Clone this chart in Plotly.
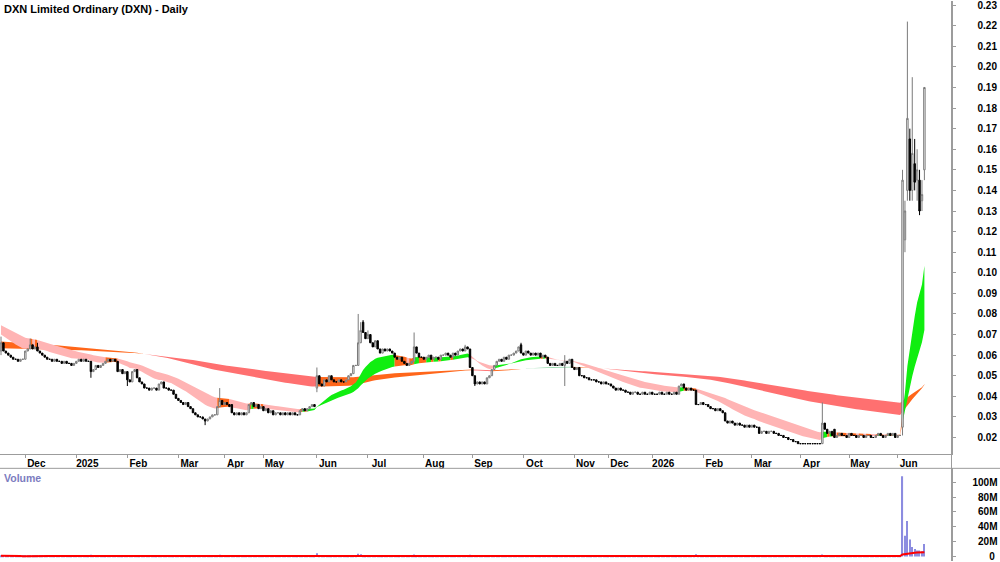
import plotly.graph_objects as go

# ---------------- data ----------------
month_ticks = [10, 31, 52, 73, 92, 108, 130, 151, 174, 194, 215, 236, 250, 268, 289, 309, 329, 349, 369]
month_labels = ["Dec", "2025", "Feb", "Mar", "Apr", "May", "Jun", "Jul", "Aug", "Sep", "Oct",
                "Nov", "Dec", "2026", "Feb", "Mar", "Apr", "May", "Jun"]

opens = [
    .062, .066, .062, .061, .060, .059, .058, .058, .057, .058,
    .058, .062, .063, .065, .063, .064, .062, .061, .060, .059,
    .058, .058, .057, .058, .057, .057, .056, .057, .056, .056,
    .055, .056, .057, .058, .057, .058, .057, .057, .052, .053,
    .055, .054, .055, .056, .057, .058, .057, .058, .057, .052,
    .053, .051, .052, .048, .047, .052, .053, .049, .047, .046,
    .044, .044, .043, .044, .044, .043, .046, .047, .044, .044,
    .043, .043, .041, .039, .038, .037, .036, .037, .035, .034,
    .032, .031, .030, .030, .029, .028, .029, .030, .031, .031,
    .035, .038, .036, .037, .036, .036, .032, .031, .032, .031,
    .032, .031, .032, .036, .037, .035, .036, .034, .035, .033,
    .034, .032, .033, .031, .032, .032, .031, .032, .031, .032,
    .031, .032, .031, .031, .033, .034, .033, .034, .035, .036,
    .044, .050, .046, .045, .048, .047, .050, .048, .047, .047,
    .048, .047, .047, .048, .050, .051, .055, .055, .066, .076,
    .071, .068, .070, .066, .064, .067, .063, .061, .063, .062,
    .063, .062, .061, .059, .058, .059, .057, .056, .055, .056,
    .057, .064, .061, .059, .059, .058, .059, .060, .058, .059,
    .059, .058, .060, .060, .061, .060, .059, .061, .060, .062,
    .063, .062, .064, .063, .054, .050, .046, .047, .046, .047,
    .046, .049, .050, .053, .055, .057, .058, .057, .059, .058,
    .060, .060, .061, .062, .065, .061, .060, .062, .061, .060,
    .061, .060, .061, .059, .060, .059, .056, .055, .056, .055,
    .055, .056, .055, .057, .056, .058, .054, .053, .054, .050,
    .050, .049, .049, .048, .048, .048, .047, .047, .046, .047,
    .046, .046, .045, .044, .043, .044, .043, .043, .042, .042,
    .041, .042, .042, .041, .041, .042, .041, .041, .042, .041,
    .041, .041, .042, .041, .041, .042, .041, .041, .042, .041,
    .045, .046, .044, .043, .044, .043, .043, .036, .036, .037,
    .036, .036, .035, .034, .034, .033, .034, .033, .032, .028,
    .027, .028, .027, .026, .027, .026, .026, .025, .026, .025,
    .026, .025, .025, .022, .023, .023, .022, .023, .023, .022,
    .022, .021, .021, .020, .020, .019, .019, .018, .018, .017,
    .017, .017, .017, .017, .017, .017, .017, .017, .017, .027,
    .024, .022, .023, .024, .020, .021, .022, .021, .021, .020,
    .022, .021, .021, .020, .021, .021, .020, .021, .021, .020,
    .020, .021, .022, .021, .020, .021, .022, .021, .022, .020,
    .021, .025, .116, .140, .165, .140, .153, .145, .145, .135, .150,
]

closes = [
    .066, .062, .061, .060, .059, .058, .058, .057, .058, .058,
    .062, .063, .065, .063, .064, .062, .061, .060, .059, .058,
    .058, .057, .058, .057, .057, .056, .057, .056, .056, .055,
    .056, .057, .058, .057, .058, .057, .057, .052, .053, .055,
    .054, .055, .056, .057, .058, .057, .058, .057, .052, .053,
    .051, .052, .048, .047, .052, .053, .049, .047, .046, .044,
    .044, .043, .044, .044, .043, .046, .047, .044, .044, .043,
    .043, .041, .039, .038, .037, .036, .037, .035, .034, .032,
    .031, .030, .030, .029, .028, .029, .030, .031, .031, .035,
    .038, .036, .037, .036, .035, .032, .031, .032, .031, .032,
    .031, .032, .036, .037, .035, .036, .034, .035, .033, .034,
    .032, .033, .031, .032, .032, .031, .032, .031, .032, .031,
    .032, .031, .031, .033, .034, .033, .034, .035, .036, .035,
    .050, .046, .045, .048, .047, .050, .048, .047, .047, .048,
    .047, .047, .048, .050, .051, .055, .055, .066, .072, .071,
    .068, .070, .066, .064, .067, .063, .061, .063, .062, .063,
    .062, .061, .059, .058, .059, .057, .056, .055, .056, .057,
    .064, .061, .059, .059, .058, .059, .060, .058, .059, .059,
    .058, .060, .060, .061, .060, .059, .061, .060, .062, .063,
    .062, .064, .063, .054, .050, .046, .047, .046, .047, .046,
    .049, .050, .053, .055, .057, .058, .057, .059, .058, .060,
    .060, .061, .062, .064, .061, .060, .062, .061, .060, .061,
    .060, .061, .059, .060, .059, .056, .055, .056, .055, .055,
    .056, .055, .057, .056, .058, .054, .053, .054, .050, .050,
    .049, .049, .048, .048, .048, .047, .047, .046, .047, .046,
    .046, .045, .044, .043, .044, .043, .043, .042, .042, .041,
    .042, .042, .041, .041, .042, .041, .041, .042, .041, .041,
    .041, .042, .041, .041, .042, .041, .041, .042, .041, .045,
    .046, .044, .043, .044, .043, .043, .036, .036, .037, .036,
    .036, .035, .034, .034, .033, .034, .033, .032, .028, .027,
    .028, .027, .026, .027, .026, .026, .025, .026, .025, .026,
    .025, .025, .022, .023, .023, .022, .023, .023, .022, .022,
    .021, .021, .020, .020, .019, .019, .018, .018, .017, .017,
    .017, .017, .017, .017, .017, .017, .017, .017, .027, .024,
    .022, .023, .021, .020, .021, .022, .021, .021, .020, .022,
    .021, .021, .020, .021, .021, .020, .021, .021, .020, .020,
    .021, .022, .021, .020, .021, .022, .021, .022, .020, .021,
    .021, .145, .130, .175, .140, .158, .144, .150, .130, .138, .190,
]

# visible wick extremes (bar index -> price); other bars have wicks hidden in the body
wick_highs = {0: .069, 12: .068, 15: .066, 90: .044, 130: .054, 147: .080, 148: .076, 149: .077,
              151: .072, 170: .071, 191: .065, 214: .066, 232: .060, 338: .037, 371: .150,
              372: .135, 373: .222, 374: .170, 375: .195, 376: .165, 377: .160, 378: .150,
              379: .145, 380: .190}
wick_lows = {0: .060, 37: .049, 52: .045, 84: .026, 130: .042, 195: .045, 232: .045, 371: .021,
             372: .110, 373: .135, 374: .135, 375: .135, 376: .140, 377: .135, 378: .128,
             379: .130, 380: .145}

volumes_m = [
    1.2, 0.8, 0.6, 0.5, 0.4, 0.6, 0.3, 0.5, 0.4, 0.3, 1.5, 0.9, 1.8, 0.7, 0.5, 0.9, 0.6, 0.4, 0.5, 0.3,
    0.4, 0.5, 0.3, 0.4, 0.6, 0.3, 0.5, 0.4, 0.3, 0.6, 0.4, 0.5, 0.8, 0.4, 0.6, 0.3, 0.4, 2.5, 1.2, 1.0,
    0.6, 0.7, 0.5, 0.8, 0.6, 0.4, 0.5, 0.4, 1.8, 0.9, 0.7, 0.6, 1.9, 1.1, 2.2, 1.0, 1.4, 0.9, 0.6, 0.8,
    0.5, 0.4, 0.6, 0.3, 0.5, 1.2, 0.8, 0.9, 0.4, 0.5, 0.3, 0.9, 1.0, 0.8, 0.7, 0.6, 0.5, 0.9, 0.8, 1.0,
    0.7, 0.9, 0.6, 0.8, 1.3, 0.7, 0.6, 0.8, 0.5, 1.9, 2.4, 1.1, 0.7, 0.6, 0.5, 1.2, 0.8, 0.5, 0.4, 0.5,
    0.4, 0.5, 1.3, 0.9, 0.7, 0.5, 0.6, 0.4, 0.6, 0.5, 0.7, 0.4, 0.6, 0.5, 0.3, 0.4, 0.3, 0.5, 0.4, 0.3,
    0.4, 0.3, 0.3, 0.8, 0.9, 0.6, 0.7, 1.0, 1.2, 0.8, 4.5, 2.0, 1.2, 1.4, 0.9, 1.5, 1.0, 0.8, 0.6, 0.7,
    0.6, 0.5, 0.7, 1.2, 1.3, 2.2, 1.5, 3.8, 3.0, 2.1, 1.6, 1.4, 1.3, 1.0, 1.1, 0.9, 0.8, 0.9, 0.7, 0.6,
    0.6, 0.7, 0.8, 0.6, 0.5, 0.7, 0.6, 0.8, 0.5, 0.6, 2.6, 1.3, 0.8, 0.6, 0.5, 0.6, 0.7, 0.6, 0.5, 0.4,
    0.5, 0.6, 0.4, 0.5, 0.4, 0.5, 0.6, 0.5, 0.7, 0.8, 0.6, 1.0, 0.7, 2.4, 1.8, 1.3, 0.9, 0.6, 0.5, 0.6,
    0.9, 0.8, 1.1, 1.2, 1.0, 0.9, 0.7, 0.8, 0.6, 0.8, 0.7, 0.8, 0.9, 1.3, 1.1, 0.8, 0.7, 0.6, 0.5, 0.6,
    0.5, 0.6, 0.7, 0.5, 0.6, 1.0, 0.8, 0.6, 0.5, 0.4, 0.5, 0.6, 2.2, 0.9, 1.0, 1.4, 0.8, 0.6, 1.2, 0.7,
    0.5, 0.4, 0.5, 0.4, 0.3, 0.5, 0.4, 0.3, 0.4, 0.3, 0.5, 0.6, 0.7, 0.8, 0.5, 0.6, 0.4, 0.5, 0.3, 0.4,
    0.3, 0.4, 0.3, 0.3, 0.4, 0.3, 0.2, 0.4, 0.3, 0.3, 0.2, 0.4, 0.3, 0.3, 0.2, 0.3, 0.3, 0.2, 0.3, 1.6,
    1.2, 0.9, 0.6, 0.5, 0.4, 0.5, 3.2, 1.4, 0.9, 0.7, 0.6, 0.5, 0.6, 0.4, 0.5, 0.4, 0.5, 0.6, 1.5, 0.9,
    0.6, 0.5, 0.6, 0.4, 0.5, 0.4, 0.6, 0.4, 0.5, 0.3, 0.4, 0.5, 1.2, 0.7, 0.5, 0.6, 0.4, 0.5, 0.4, 0.3,
    0.5, 0.4, 0.6, 0.4, 0.5, 0.4, 0.6, 0.5, 0.7, 0.4, 0.3, 0.2, 0.3, 0.2, 0.3, 0.2, 0.3, 0.2, 2.8, 1.5,
    1.0, 0.8, 0.6, 1.1, 0.7, 0.6, 0.5, 0.4, 0.6, 0.7, 0.5, 0.4, 0.6, 0.5, 0.4, 0.5, 0.3, 0.4, 0.5, 0.4,
    0.6, 0.8, 0.5, 0.4, 0.6, 0.9, 0.7, 1.0, 0.8, 0.6, 0.7,
    108, 28, 48, 23, 13, 10, 8, 8, 7, 17,
]

SHORT_PERIODS = (20, 40)
SHORT_START = (0.070, 0.0745)
LONG_PERIODS = (150, 250)
LONG_START = (0.0666, 0.0634)
VOL_MA = 50

N = len(closes)
assert len(opens) == N and len(volumes_m) == N, (len(opens), N, len(volumes_m))
idx = list(range(N))
highs = [wick_highs.get(i, max(opens[i], closes[i])) for i in idx]
lows = [wick_lows.get(i, min(opens[i], closes[i])) for i in idx]
vols = [v * 1e6 for v in volumes_m]


def ema(vals, n, start):
    a = 2.0 / (n + 1)
    out = [start]
    e = start
    for v in vals[1:]:
        e = e + a * (v - e)
        out.append(e)
    return out


sf = ema(closes, SHORT_PERIODS[0], SHORT_START[0])
ss = ema(closes, SHORT_PERIODS[1], SHORT_START[1])
lf = ema(closes, LONG_PERIODS[0], LONG_START[0])
ls = ema(closes, LONG_PERIODS[1], LONG_START[1])


def slope(s, i):
    return s[i] - s[i - 1] if i > 0 else s[1] - s[0]


short_state, long_state = [], []
for i in idx:
    d1, d2 = slope(sf, i), slope(ss, i)
    short_state.append("green" if d1 > 0 and d2 > 0 else ("pink" if d1 < 0 and d2 < 0 else "orange"))
    e1, e2 = slope(lf, i), slope(ls, i)
    if lf[i] < ls[i] and e1 < 0:
        long_state.append("red")
    elif lf[i] > ls[i] and e1 > 0 and e2 > 0:
        long_state.append("pale")
    else:
        long_state.append("orange")

PALETTE = {"green": "#10EE10", "pink": "#FFB4B4", "orange": "#FF661A", "red": "#FF7070",
           "pale": "#90D8A8"}

vol_ma = []
for i in idx:
    w = vols[max(0, i - VOL_MA + 1): i + 1]
    vol_ma.append(sum(w) / len(w))

# ---------------- figure ----------------
W, H = 1000, 562
XR = 951.5 / W
MAIN_BOT = (H - 455) / H
VOL_TOP = (H - 469) / H
PX_PER_BAR = 2.43
X0 = -1.0 / PX_PER_BAR
X1 = X0 + 951.5 / PX_PER_BAR
Y_RANGE = [0.0118, 0.232]
FONT = "Liberation Sans, Arial, sans-serif"

fig = go.Figure()


def add_band(top, bot, states):
    start = 0
    for i in range(1, N + 1):
        if i == N or states[i] != states[start]:
            end = min(i, N - 1)
            xs = list(range(start, end + 1))
            fig.add_trace(go.Scatter(
                x=xs + xs[::-1],
                y=[top[k] for k in xs] + [bot[k] for k in xs[::-1]],
                fill="toself", fillcolor=PALETTE[states[start]], mode="lines",
                line=dict(width=0), hoverinfo="skip", showlegend=False,
                xaxis="x", yaxis="y"))
            start = i


add_band([max(a, b) for a, b in zip(lf, ls)], [min(a, b) for a, b in zip(lf, ls)], long_state)
add_band([max(a, b) for a, b in zip(sf, ss)], [min(a, b) for a, b in zip(sf, ss)], short_state)

fig.add_trace(go.Candlestick(
    x=idx, open=opens, high=highs, low=lows, close=closes,
    increasing=dict(line=dict(color="#7A7A7A", width=1), fillcolor="#FFFFFF"),
    decreasing=dict(line=dict(color="#000000", width=1), fillcolor="#000000"),
    whiskerwidth=0, hoverinfo="skip", showlegend=False, xaxis="x3", yaxis="y3"))

fig.add_trace(go.Bar(x=idx, y=vols, width=0.45, marker=dict(color="#8C8CE0", line=dict(width=0)),
                     hoverinfo="skip", showlegend=False, xaxis="x2", yaxis="y2"))
fig.add_trace(go.Scatter(x=idx, y=vol_ma, mode="lines", line=dict(color="#FF0000", width=2),
                         hoverinfo="skip", showlegend=False, xaxis="x2", yaxis="y2"))

tickfont = dict(family=FONT, size=10, color="#000000", weight="bold")
axis_grey = "#9C9C9C"

price_ticks = [round(0.02 + 0.01 * k, 2) for k in range(22)]
vol_ticks = [0, 20e6, 40e6, 60e6, 80e6, 100e6]
vol_text = ["\u2007\u2007\u20070", "\u200720M", "\u200740M", "\u200760M", "\u200780M", "100M"]

fig.update_layout(
    width=W, height=H, autosize=False,
    margin=dict(l=0, r=0, t=0, b=0, pad=0),
    paper_bgcolor="#FFFFFF", plot_bgcolor="#FFFFFF",
    showlegend=False, boxgap=0.15,
    font=dict(family=FONT, size=10, color="#000000"),
    xaxis=dict(domain=[0, XR], range=[X0, X1], anchor="y", showgrid=False, zeroline=False,
               showline=True, linecolor=axis_grey, linewidth=1,
               ticks="outside", ticklen=3, tickcolor=axis_grey,
               tickvals=month_ticks, ticktext=month_labels, tickfont=tickfont,
               ticklabelshift=11, ticklabelstandoff=-3, ticklabeloverflow="allow",
               fixedrange=True),
    yaxis=dict(domain=[MAIN_BOT, 1], range=Y_RANGE, anchor="x", side="right", showgrid=False,
               zeroline=False, showline=True, linecolor=axis_grey, linewidth=1,
               ticks="outside", ticklen=3, tickcolor=axis_grey,
               tickvals=price_ticks, tickformat=".2f", tickfont=tickfont,
               ticklabelstandoff=20, ticklabeloverflow="allow", fixedrange=True),
    xaxis3=dict(overlaying="x", anchor="y3", range=[X0, X1], visible=False,
                rangeslider=dict(visible=False), fixedrange=True),
    yaxis3=dict(overlaying="y", anchor="x3", range=Y_RANGE, visible=False, fixedrange=True),
    xaxis2=dict(domain=[0, XR], range=[X0, X1], anchor="y2", showgrid=False, zeroline=False,
                showline=False, showticklabels=False, ticks="", fixedrange=True),
    yaxis2=dict(domain=[0, VOL_TOP], range=[-6e6, 118.8e6], anchor="x2", side="right",
                showgrid=False, zeroline=False, showline=True, linecolor=axis_grey,
                ticks="outside", ticklen=3, tickcolor=axis_grey,
                tickvals=vol_ticks, ticktext=vol_text, tickfont=tickfont,
                ticklabelstandoff=15, ticklabeloverflow="allow", fixedrange=True),
    shapes=[
        dict(type="line", xref="paper", yref="paper", x0=0, x1=1, y0=VOL_TOP, y1=VOL_TOP,
             line=dict(color=axis_grey, width=1)),
        dict(type="line", xref="paper", yref="paper", x0=XR, x1=XR, y0=0, y1=1,
             line=dict(color=axis_grey, width=1)),
    ],
    annotations=[
        dict(text="DXN Limited Ordinary (DXN) - Daily", xref="paper", yref="paper",
             x=0.002, y=1.0, xanchor="left", yanchor="top", showarrow=False,
             font=dict(family=FONT, size=11, color="#000000", weight="bold")),
        dict(text="Volume", xref="paper", yref="paper", x=0.002, y=1 - 471 / H,
             xanchor="left", yanchor="top", showarrow=False,
             font=dict(family=FONT, size=10.5, color="#7C7CC0", weight="bold")),
    ],
)

fig.write_html("out.html", config={"displayModeBar": False})
